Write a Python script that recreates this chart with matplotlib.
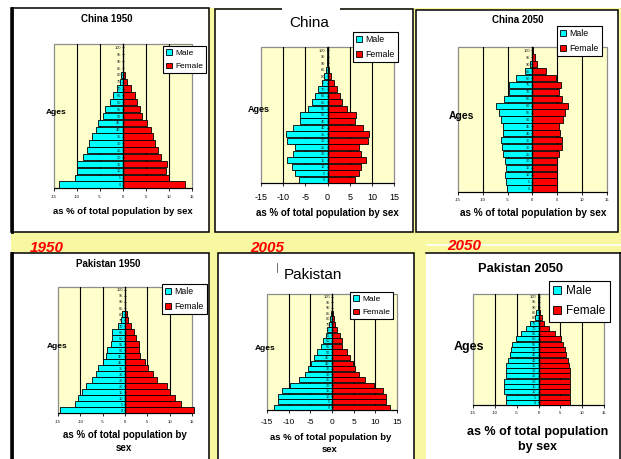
import matplotlib
matplotlib.use('Agg')
import matplotlib.pyplot as plt
from matplotlib.patches import Rectangle

plt.rcParams['font.family'] = ['Liberation Sans', 'DejaVu Sans']
plt.rcParams['axes.unicode_minus'] = False

# ---------------- data ----------------
ages = list(range(0, 101, 5))
age_labels = [str(a) for a in ages]
x_ticks = [-15, -10, -5, 0, 5, 10, 15]
x_tick_labels = ['-15', '-10', '-5', '0', '5', '10', '15']
series_names = ['Male', 'Female']
titles = ['China 1950', 'China', 'China 2050', 'Pakistan 1950', 'Pakistan', 'Pakistan 2050']
year_labels = ['1950', '2005', '2050']
x_title = 'as % of total population by sex'
y_title = 'Ages'

china1950_male = [14.0, 10.4, 9.9, 10.1, 8.6, 7.9, 7.4, 6.7, 5.8, 5.4, 4.3, 3.9, 2.8, 2.1, 1.2, 0.65, 0.36, 0.08, 0.04, 0.02, 0.01]
china1950_female = [13.4, 10.0, 9.3, 9.5, 8.3, 7.7, 7.0, 6.5, 6.0, 5.3, 4.2, 3.8, 3.1, 2.6, 1.7, 0.8, 0.36, 0.1, 0.05, 0.02, 0.01]

china2005_male = [6.5, 7.4, 8.0, 9.15, 7.8, 7.3, 9.15, 9.45, 7.8, 6.3, 6.3, 4.4, 3.4, 2.8, 2.25, 1.3, 0.7, 0.3, 0.1, 0.03, 0.01]
china2005_female = [6.1, 7.05, 7.5, 8.7, 7.6, 7.2, 9.15, 9.45, 7.9, 6.1, 6.4, 4.5, 3.3, 2.85, 2.25, 1.5, 0.9, 0.45, 0.2, 0.05, 0.01]

china2050_male = [5.2, 5.4, 5.6, 5.4, 5.5, 5.9, 6.2, 6.4, 5.9, 5.9, 6.4, 6.8, 7.4, 5.7, 4.7, 4.7, 3.4, 1.6, 0.5, 0.2, 0.05]
china2050_female = [4.9, 5.0, 5.0, 5.0, 5.0, 5.4, 5.9, 5.9, 5.6, 5.4, 6.2, 6.5, 7.2, 6.0, 5.4, 5.8, 4.8, 2.7, 1.0, 0.5, 0.1]

pakistan1950_male = [14.5, 11.3, 10.5, 9.55, 8.7, 7.3, 6.6, 6.0, 4.9, 4.2, 3.95, 3.2, 2.9, 2.9, 1.6, 1.0, 0.7, 0.05, 0.03, 0.02, 0.01]
pakistan1950_female = [15.4, 12.6, 11.3, 10.1, 9.4, 7.2, 6.3, 5.1, 4.5, 3.4, 3.1, 3.2, 2.5, 2.0, 1.3, 0.7, 0.5, 0.05, 0.03, 0.02, 0.01]

pakistan2005_male = [13.5, 12.4, 12.4, 11.6, 9.6, 7.7, 6.3, 5.6, 4.9, 4.2, 3.4, 2.6, 2.1, 1.5, 1.1, 0.8, 0.5, 0.2, 0.08, 0.03, 0.01]
pakistan2005_female = [13.3, 12.45, 12.4, 11.7, 9.6, 7.5, 6.3, 5.4, 4.9, 4.1, 3.4, 2.2, 2.2, 1.8, 1.2, 0.6, 0.4, 0.2, 0.08, 0.03, 0.01]

pakistan2050_male = [7.4, 7.4, 7.8, 7.8, 7.8, 7.4, 7.4, 7.4, 7.0, 6.6, 6.4, 6.1, 5.1, 4.0, 2.8, 1.9, 0.9, 0.5, 0.15, 0.05, 0.02]
pakistan2050_female = [7.3, 7.3, 7.3, 7.3, 7.3, 7.3, 7.3, 7.0, 6.7, 6.3, 6.0, 5.6, 5.1, 3.8, 2.5, 1.2, 0.8, 0.45, 0.2, 0.05, 0.02]

male_series = [china1950_male, china2005_male, china2050_male,
               pakistan1950_male, pakistan2005_male, pakistan2050_male]
female_series = [china1950_female, china2005_female, china2050_female,
                 pakistan1950_female, pakistan2005_female, pakistan2050_female]

# ---------------- styling / layout ----------------
MALE_C = '#00FFFF'
FEMALE_C = '#FF0000'
PLOT_BG = '#FFFFCC'
OUTER_Y = '#F8F8A0'
W, H = 621, 459
PX = 100 / 72.0  # px per point

layouts = [
    dict(ax=(54, 44, 192, 188), title=(107, 22.3, 7, 'bold'),
         xl=[(x_title, 123, 214.3)], xl_size=6.8, ages=(56, 113, 6),
         tick=(3, 197), leg=(163, 46, 6)),
    dict(ax=(261, 47, 394, 183), title=(309, 27.3, 11, 'normal'),
         xl=[(x_title, 327, 215.7)], xl_size=7, ages=(259, 109, 6.5),
         tick=(6.5, 197), leg=(353, 32, 6.3)),
    dict(ax=(458, 47, 607, 192), title=(518, 23.3, 7, 'bold'),
         xl=[(x_title, 533, 216)], xl_size=7.2, ages=(461, 116, 7.5),
         tick=(3, 200), leg=(557, 26, 6.3)),
    dict(ax=(58, 287, 192, 413), title=(108, 266.7, 7, 'bold'),
         xl=[('as % of total population by', 124.5, 438.3), ('sex', 124, 451)], xl_size=7,
         ages=(57, 347, 6), tick=(3, 422), leg=(162, 284, 6.3)),
    dict(ax=(267, 294, 397, 410), title=(313, 279.3, 11, 'normal'),
         xl=[('as % of total population by', 330.5, 440), ('sex', 330, 452)], xl_size=6.8,
         ages=(265, 349, 6), tick=(6, 422), leg=(350, 292, 6)),
    dict(ax=(473, 294, 604, 405), title=(520, 271.7, 9.3, 'bold'),
         xl=[('as % of total population', 538, 435), ('by sex', 538, 450)], xl_size=9,
         ages=(469, 347, 9), tick=(3, 413), leg=(549, 281, 8.5)),
]

fig = plt.figure(figsize=(W / 100, H / 100), dpi=100, facecolor='white')
bg = fig.add_axes([0, 0, 1, 1], zorder=0)
bg.set_xlim(0, W)
bg.set_ylim(H, 0)
bg.axis('off')

# overlay for text drawn on top of the plot areas
fg = fig.add_axes([0, 0, 1, 1], zorder=20)
fg.set_xlim(0, W)
fg.set_ylim(H, 0)
fg.axis('off')
fg.patch.set_alpha(0)

# yellow backdrop
bg.add_patch(Rectangle((11, 8), W - 11, H - 8, facecolor=OUTER_Y, edgecolor='none'))
# panels
panel_boxes = [(11, 8, 209, 232), (215, 9, 413, 232), (416, 10, 618, 232),
               (11, 253, 209, 462), (218, 253, 414, 462)]
for (x0, y0, x1, y1) in panel_boxes:
    bg.add_patch(Rectangle((x0, y0), x1 - x0, y1 - y0, facecolor='white',
                           edgecolor='black', linewidth=1.1))
bg.plot([11.5, 11.5], [8, 232], color='black', linewidth=2.0)
bg.plot([11.5, 11.5], [253, 462], color='black', linewidth=2.0)
# sixth panel (no left border)
bg.add_patch(Rectangle((426, 253), W - 426 + 2, H - 253 + 3, facecolor='white', edgecolor='none'))
bg.plot([426, W], [253, 253], color='black', linewidth=1.1)
bg.plot([619.5, 619.5], [253, H + 2], color='black', linewidth=1.1)
bg.plot([427, W], [245, 245], color='white', linewidth=1.2)
# white gap behind the "China" title
bg.add_patch(Rectangle((282, 5), 58, 8, facecolor='white', edgecolor='none', zorder=3))
# small cursor mark near "Pakistan"
bg.plot([277, 277], [263, 272], color='#555555', linewidth=0.6)

# year labels
for txt, (x, y) in zip(year_labels, [(46.7, 252), (267.5, 252), (464, 250)]):
    fg.text(x, y, txt, color='#FF0000', fontsize=11, fontweight='bold', fontstyle='italic',
            ha='center', va='baseline')

for i, lay in enumerate(layouts):
    x0, y0, x1, y1 = lay['ax']
    ax = fig.add_axes([x0 / W, 1 - y1 / H, (x1 - x0) / W, (y1 - y0) / H], zorder=2)
    ax.set_facecolor(PLOT_BG)
    ax.patch.set_edgecolor('#8C8C8C')
    ax.patch.set_linewidth(0.9)
    ax.set_axisbelow(False)

    male_vals = [-v for v in male_series[i]]
    bm = ax.barh(ages, male_vals, height=4.6, color=MALE_C, edgecolor='black',
                 linewidth=0.6, label=series_names[0], zorder=2)
    bf = ax.barh(ages, female_series[i], height=4.6, color=FEMALE_C, edgecolor='black',
                 linewidth=0.6, label=series_names[1], zorder=2)
    for b in list(bm) + list(bf):
        b.set_clip_on(False)

    ax.set_xlim(-15, 15)
    ax.set_ylim(-2.5, 102.5)
    for t in x_ticks:
        if abs(t) not in (0, 15):
            ax.axvline(t, color='black', linewidth=0.8, zorder=1)

    for s in ('top', 'right'):
        ax.spines[s].set_visible(False)
    ax.spines['left'].set_position(('data', 0))
    ax.spines['left'].set_color('black')
    ax.spines['left'].set_linewidth(1.0)
    ax.spines['left'].set_zorder(3)
    ax.spines['bottom'].set_color('black')
    ax.spines['bottom'].set_linewidth(0.8)

    ax.set_yticks(ages)
    ax.set_yticklabels(age_labels)
    ax.tick_params(axis='y', direction='inout', length=2.0, width=0.5, pad=0.6,
                   labelsize=2.9, labelcolor='#222222')

    tsize, tcy = lay['tick']
    ax.set_xticks(x_ticks)
    ax.set_xticklabels(x_tick_labels)
    tick_len = 2.0
    pad_px = (tcy - y1) - tick_len * PX - 0.42 * tsize * PX
    ax.tick_params(axis='x', direction='out', length=tick_len, width=0.6,
                   labelsize=tsize, pad=max(pad_px / PX, 0.5))

    lx, ly, lfs = lay['leg']
    leg = ax.legend(handles=[bm, bf], loc='upper left',
                    bbox_to_anchor=(lx / W, 1 - ly / H), bbox_transform=fig.transFigure,
                    fontsize=lfs, frameon=True, fancybox=False, framealpha=1,
                    edgecolor='black', facecolor='white', borderaxespad=0,
                    handlelength=0.7, handleheight=0.7, handletextpad=0.4,
                    borderpad=0.35, labelspacing=0.7)
    leg.get_frame().set_linewidth(0.8)
    leg.set_zorder(10)

    tx, ty, tfs, tw = lay['title']
    fg.text(tx, ty, titles[i], fontsize=tfs, fontweight=tw, ha='center', va='baseline')
    for txt, xx, yy in lay['xl']:
        fg.text(xx, yy, txt, fontsize=lay['xl_size'], fontweight='bold',
                ha='center', va='baseline')
    axx, axy, afs = lay['ages']
    fg.text(axx, axy, y_title, fontsize=afs, fontweight='bold', ha='center', va='center')

fig.savefig('out.png', dpi=100, facecolor='white')
